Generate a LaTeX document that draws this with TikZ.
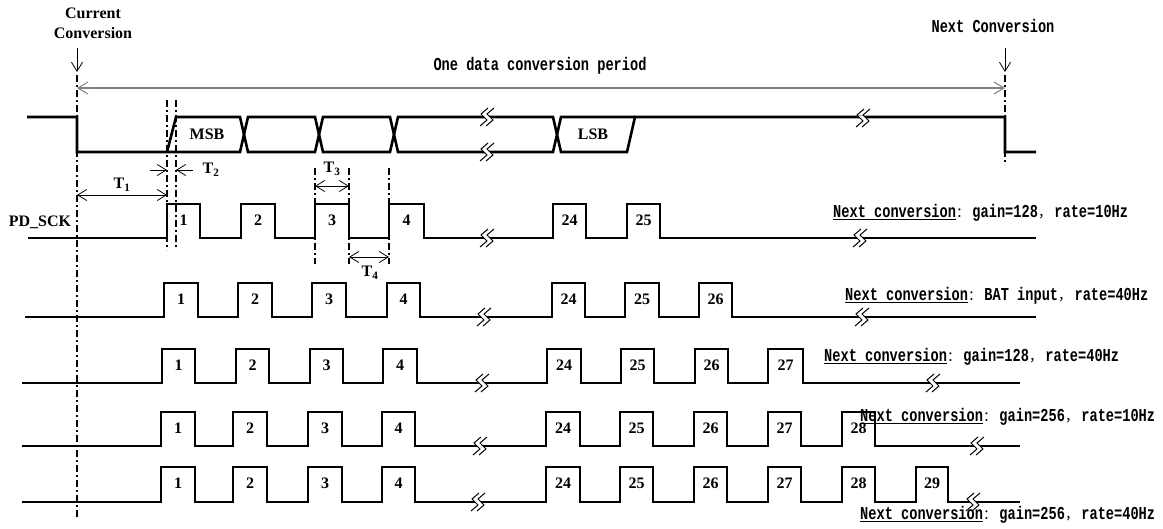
\documentclass[tikz,border=0pt]{standalone}
\usepackage{fontspec}
\setmainfont{Liberation Serif}
\setmonofont{Liberation Mono}[FakeStretch=0.75]
\newfontfamily\cjk{Noto Sans CJK SC}
\usetikzlibrary{arrows.meta}
\newcommand\fwc[1]{\makebox[16.4pt][l]{\fontsize{13.7}{15}\selectfont\cjk\mdseries #1}}
\newcommand\pulserow[5]{%
  \draw[sig] (#3,#1) \foreach \ra/\fa/\na in {#5} { -- (\ra,#1) -- (\ra,#2) -- (\fa,#2) -- (\fa,#1) } -- (#4,#1);
  \foreach \ra/\fa/\na in {#5} \node[num] at ({(\ra+\fa)/2},#2+16) {\na};
}
\begin{document}
\begin{tikzpicture}[x=1pt,y=-1pt,
  sig/.style={line width=2.6pt},
  dd/.style={line width=1.6pt,dash pattern=on 7pt off 3pt on 2pt off 3pt},
  vbarb/.tip={Straight Barb[length=9pt,width=11pt,line width=0.8pt]},
  dimarr/.style={line width=0.8pt,vbarb-vbarb},
  onearr/.style={line width=0.8pt,-vbarb},
  num/.style={font=\fontsize{16}{18}\selectfont\bfseries, inner sep=0pt},
  mono/.style={font=\fontsize{18.2}{20}\selectfont\ttfamily\bfseries, inner sep=0pt},
  nextlbl/.style={mono, anchor=west},
  brk/.pic={
    \fill[white] (-6,-2.2) -- (0,-2.2) -- (6,2.2) -- (0,2.2) -- cycle;
    \draw[line width=1pt] (1,-9) -- (-6,-3) -- (0,3) -- (-7,9);
    \draw[line width=1pt] (7,-9) -- (0,-3) -- (6,3) -- (-1,9);
  }]
\useasboundingbox (0,0) rectangle (1163,528);

% headings
\node[num, align=center, font=\fontsize{16}{20}\selectfont\bfseries] (cur) at (93,23) {Current\\Conversion};
\node[mono] (nxt) at (993,26) {Next Conversion};
\node[mono] (period) at (540,66) {One data conversion period};

% marker arrows and reference lines
\coordinate (ca) at (77,48); \coordinate (cb) at (77,72);
\coordinate (na) at (1005,48); \coordinate (nb) at (1005,72);
\draw[onearr] (ca) -- (cb);
\draw[onearr] (na) -- (nb);
\draw[dd] (77,75) -- (77,518);
\draw[dd] (1005,75) -- (1005,165);
\coordinate (pl) at (77,88); \coordinate (pr) at (1005,88);
\draw[black!50, line width=1.5pt, {Straight Barb[length=10pt,width=12pt,line width=1pt]}-{Straight Barb[length=10pt,width=12pt,line width=1pt]}] (pl) -- (pr);

% DOUT
\draw[sig] (27,117) -- (77,117) -- (77,152) -- (240,152) -- (248,117) -- (315,117) -- (323,152) -- (390,152) -- (398,117) -- (553,117) -- (561,152) -- (627,152) -- (635,117) -- (1005,117) -- (1005,152) -- (1036,152);
\draw[sig] (167,152) -- (176,117) -- (240,117) -- (248,152) -- (315,152) -- (323,117) -- (390,117) -- (398,152) -- (553,152) -- (561,117) -- (635,117);
\node[num] (msb) at (207,134) {MSB};
\node[num] (lsb) at (593,134) {LSB};
\pic at (487,117) {brk};
\pic at (487,152) {brk};
\pic at (863,118) {brk};

% T1/T2 markers
\draw[dd] (167,100) -- (167,250);
\draw[dd] (176,100) -- (176,250);
\coordinate (t2a) at (150,170); \coordinate (t2b) at (167,170);
\coordinate (t2c) at (193,170); \coordinate (t2d) at (176,170);
\draw[onearr] (t2a) -- (t2b);
\draw[onearr] (t2c) -- (t2d);
\node[num] (T2) at (211,170) {T\textsubscript{2}};
\coordinate (t1a) at (77,195); \coordinate (t1b) at (167,195);
\draw[dimarr] (t1a) -- (t1b);
\node[num] (T1) at (122,185) {T\textsubscript{1}};

% T3/T4 markers
\draw[dd] (315,168) -- (315,264);
\draw[dd] (349,168) -- (349,264);
\draw[dd] (389,168) -- (389,264);
\coordinate (t3a) at (315,186); \coordinate (t3b) at (349,186);
\draw[dimarr] (t3a) -- (t3b);
\node[num] (T3) at (332,169) {T\textsubscript{3}};
\coordinate (t4a) at (349,257); \coordinate (t4b) at (389,257);
\draw[dimarr] (t4a) -- (t4b);
\node[num] (T4) at (370,273) {T\textsubscript{4}};

% PD_SCK row
\node[num] (pdsck) at (40,222) {PD\_SCK};
\pulserow{238}{204}{28}{1036}{167/200/1,241/275/2,315/349/3,389/424/4,553/586/24,627/660/25}
\pic at (487,238) {brk};
\pic at (860,238) {brk};
\node[nextlbl] (l2) at (833,213) {\underline{Next conversion}\fwc{：}gain=128\fwc{，}rate=10Hz};

% row 3
\pulserow{317}{283}{25}{1036}{164/198/1,238/272/2,312/346/3,387/420/4,552/585/24,625/659/25,699/732/26}
\pic at (484,317) {brk};
\pic at (862,317) {brk};
\node[nextlbl] (l3) at (845,296) {\underline{Next conversion}\fwc{：}BAT input\fwc{，}rate=40Hz};

% row 4
\pulserow{383}{349}{22}{1020}{162/195/1,236/269/2,310/343/3,383/417/4,547/581/24,621/654/25,695/728/26,768/803/27}
\pic at (482,383) {brk};
\pic at (933,383) {brk};
\node[nextlbl] (l4) at (824,357) {\underline{Next conversion}\fwc{：}gain=128\fwc{，}rate=40Hz};

% row 5
\pulserow{446}{412}{22}{1020}{161/195/1,233/267/2,308/342/3,382/415/4,546/580/24,620/653/25,694/727/26,768/801/27,842/875/28}
\pic at (480,446) {brk};
\pic at (977,446) {brk};
\node[nextlbl] (l5) at (860,417) {\underline{Next conversion}\fwc{：}gain=256\fwc{，}rate=10Hz};

% row 6
\pulserow{502}{467}{22}{1020}{161/195/1,233/267/2,308/342/3,382/415/4,546/580/24,620/653/25,694/727/26,768/801/27,842/875/28,916/948/29}
\pic at (478,502) {brk};
\pic at (973,502) {brk};
\node[nextlbl] (l6) at (860,515) {\underline{Next conversion}\fwc{：}gain=256\fwc{，}rate=40Hz};
\end{tikzpicture}
\end{document}
